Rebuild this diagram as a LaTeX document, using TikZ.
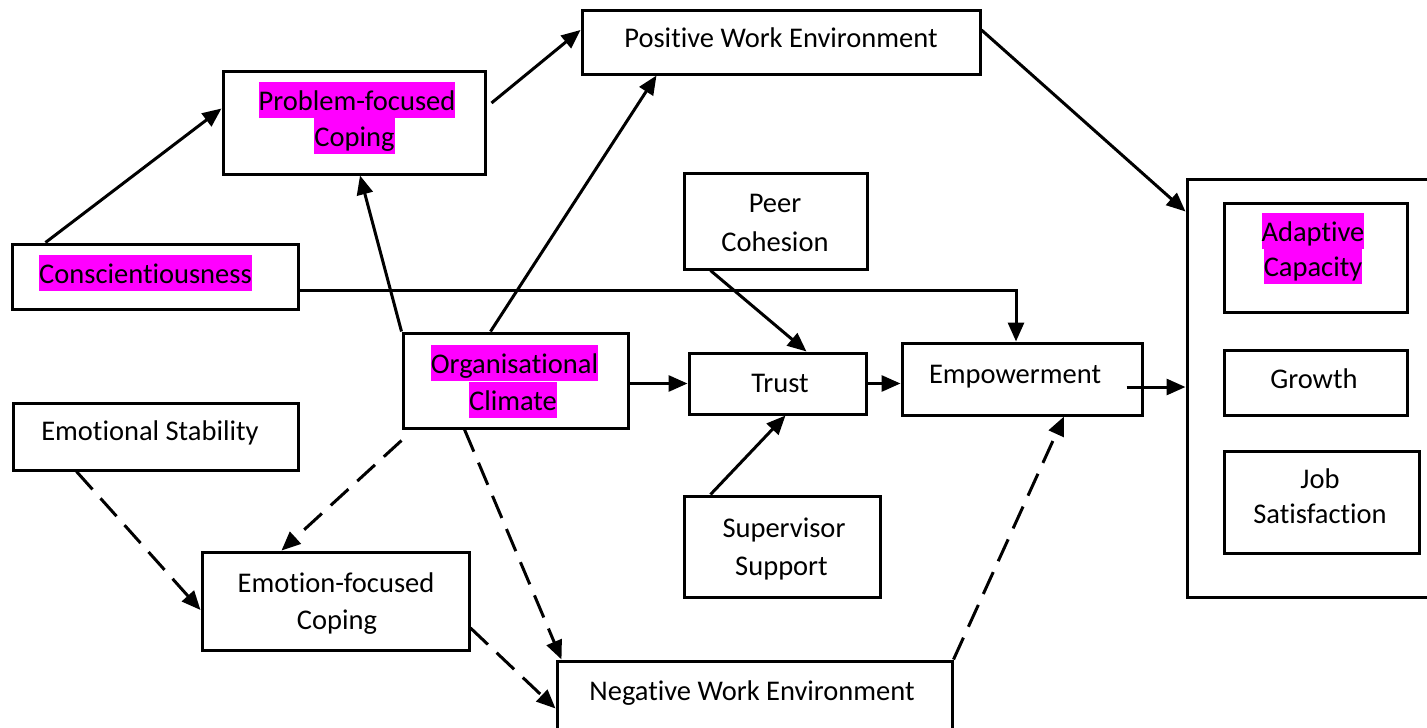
\documentclass[tikz,border=0pt]{standalone}
\usepackage{fontspec}
\setmainfont{Carlito}[Ligatures={NoCommon,NoContextual}]
\usetikzlibrary{arrows.meta}
\definecolor{hlmag}{RGB}{255,0,255}
\setlength{\fboxsep}{0pt}
\newcommand\hlt[1]{\colorbox{hlmag}{\rule[-8pt]{0pt}{36pt}#1}}
\newcommand\tI{t\kern0pt i}
\begin{document}
\begin{tikzpicture}[x=1pt,y=-1pt,
  box/.style={draw, line width=3pt, inner sep=0pt, rectangle, fill=white},
  txt/.style={inner sep=0pt, anchor=base, font=\fontsize{28.5}{36}\selectfont},
  arr/.style={line width=3pt, -{Triangle[length=19pt,width=16pt]}},
  dsh/.style={arr, dash pattern=on 24pt off 12pt},
]
\useasboundingbox (0,0) rectangle (1427,728);
\clip (0,0) rectangle (1427,728);

% boxes
\node[box, minimum width=398pt, minimum height=64pt] (pos) at (781,42) {};
\node[box, minimum width=262pt, minimum height=103pt] (pfc) at (354,122.5) {};
\node[box, minimum width=286pt, minimum height=65pt] (con) at (155,276.5) {};
\node[box, minimum width=225pt, minimum height=95pt] (org) at (515.5,380.5) {};
\node[box, minimum width=285pt, minimum height=67pt] (est) at (155.5,436.5) {};
\node[box, minimum width=183pt, minimum height=96pt] (peer) at (775.5,221) {};
\node[box, minimum width=177pt, minimum height=61pt] (trust) at (777.5,383.5) {};
\node[box, minimum width=240pt, minimum height=72pt] (emp) at (1022,379) {};
\node[box, minimum width=196pt, minimum height=101pt] (sup) at (782,546.5) {};
\node[box, minimum width=267pt, minimum height=98pt] (efc) at (335.5,601) {};
\node[box, minimum width=395pt, minimum height=89pt] (neg) at (754.5,705.5) {};
\node[box, minimum width=253pt, minimum height=418pt] (out) at (1313.5,388) {};
\node[box, minimum width=183pt, minimum height=109pt] (ada) at (1315.5,257.5) {};
\node[box, minimum width=183pt, minimum height=65pt] (gro) at (1315.5,382.5) {};
\node[box, minimum width=195pt, minimum height=102pt] (job) at (1321.5,502) {};

% texts
\node[txt] (pos-t) at (781,47) {Posi\tI ve Work Environment};
\node[txt] (pfc-t1) at (357,110) {\hlt{Problem-focused}};
\node[txt] (pfc-t2) at (354.5,146) {\hlt{Coping}};
\node[txt] (con-t) at (145.5,283) {\hlt{Conscien\tI ousness}};
\node[txt] (org-t1) at (514.5,373) {\hlt{Organisa\tI onal}};
\node[txt] (org-t2) at (513,410) {\hlt{Climate}};
\node[txt] (est-t) at (150,440) {Emo\tI onal Stability};
\node[txt] (peer-t1) at (775,212) {Peer};
\node[txt] (peer-t2) at (775,251) {Cohesion};
\node[txt] (trust-t) at (780,392) {Trust};
\node[txt] (emp-t) at (1015,383) {Empowerment};
\node[txt] (sup-t1) at (784,537) {Supervisor};
\node[txt] (sup-t2) at (781.5,575) {Support};
\node[txt] (efc-t1) at (336,592) {Emo\tI on-focused};
\node[txt] (efc-t2) at (337,629) {Coping};
\node[txt] (neg-t) at (752,700) {Nega\tI ve Work Environment};
\node[txt] (ada-t1) at (1313,241) {\hlt{Adap\tI ve}};
\node[txt] (ada-t2) at (1313,276) {\hlt{Capacity}};
\node[txt] (gro-t) at (1314,388) {Growth};
\node[txt] (job-t1) at (1320,488) {Job};
\node[txt] (job-t2) at (1320,523) {Sa\tI sfac\tI on};

% solid connectors
\draw[arr] ([xshift=35pt]con.north west) -- ([yshift=14pt]pfc.west);
\draw[arr] ([xshift=5pt,yshift=19.5pt]pfc.east) -- ([yshift=12pt]pos.west);
\draw[arr] (org.north west) -- ([xshift=6pt]pfc.south);
\draw[arr] ([xshift=-25pt]org.north) -- ([xshift=76pt]pos.south west);
\draw[arr] ([yshift=12pt]pos.east) -- ([yshift=-34pt]out.north west);
\draw[arr] ([yshift=-13.5pt]con.east) -| ([xshift=-6pt]emp.north);
\draw[arr] ([xshift=28pt]peer.south west) -- ([xshift=29pt]trust.north);
\draw[arr] ([yshift=-3pt]org.east) -- ([yshift=-3pt]org.east -| trust.west);
\draw[arr] (trust.east) -- (trust.east -| emp.west);
\draw[arr] ([xshift=28pt]sup.north west) -- ([xshift=8pt]trust.south);
\coordinate (empout) at ([xshift=-17pt,yshift=-8pt]emp.east);
\draw[arr] (empout) -- (empout -| out.west);

% dashed connectors
\draw[dsh] ([xshift=65pt]est.south west) -- ([yshift=-9pt]efc.west);
\draw[dsh] ([yshift=-11pt]org.south west) -- ([xshift=81pt]efc.north west);
\draw[dsh] ([xshift=63pt]org.south west) -- ([xshift=6pt]neg.north west);
\draw[dsh] ([yshift=-27pt]efc.east) -- ([yshift=-49pt]neg.north west);
\draw[dsh] (neg.north east) -- ([xshift=42pt]emp.south);
\end{tikzpicture}
\end{document}
